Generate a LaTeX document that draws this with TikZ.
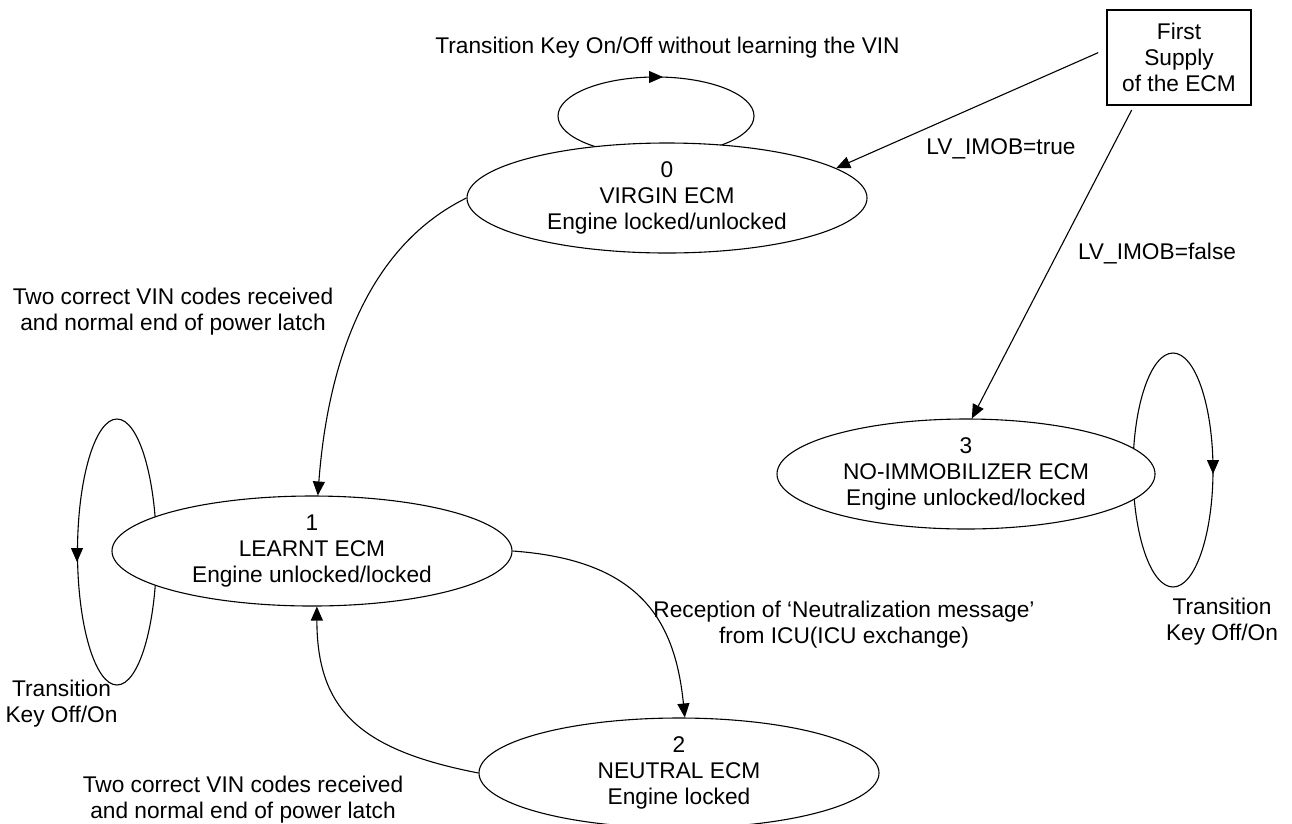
\documentclass[tikz,border=0pt]{standalone}
\usepackage{fontspec}
\setmainfont{Liberation Sans}
\usetikzlibrary{arrows.meta,shapes.geometric,calc}

\begin{document}
\begin{tikzpicture}[x=1pt,y=-1pt,
  every node/.style={font=\fontsize{22.7pt}{26pt}\selectfont},
  state/.style={ellipse,draw,fill=white,line width=1.1pt,inner sep=0pt,
                minimum width=400pt,minimum height=110pt},
  statetext/.style={align=center,inner sep=0pt},
  lbl/.style={align=center,inner sep=0pt,anchor=base},
  wire/.style={line width=1.1pt},
  trans/.style={wire,-{Triangle[length=14pt,width=12pt]}}
]
\useasboundingbox (0,0) rectangle (1292,823);

% state centres
\coordinate (c0) at (667,198);
\coordinate (c1) at (312,551);
\coordinate (c2) at (679,773);
\coordinate (c3) at (966,474);

% self-loops, drawn first so the filled states hide their inner parts
\draw[wire] ($(c0)+(-11,-82)$) ellipse [x radius=98, y radius=39];
\draw[wire] ($(c1)+(-195,1)$) ellipse [x radius=39.5, y radius=133];
\draw[wire] ($(c3)+(207,-4)$) ellipse [x radius=40, y radius=117];

% states
\node[state] (s0) at (c0) {};
\node[state] (s1) at (c1) {};
\node[state] (s2) at (c2) {};
\node[state,minimum width=378pt] (s3) at (c3) {};

\node[statetext] (t0) at (s0) {0\\VIRGIN ECM\\Engine locked/unlocked};
\node[statetext] (t1) at (s1) {1\\LEARNT ECM\\Engine unlocked/locked};
\node[statetext] (t2) at (s2) {2\\NEUTRAL ECM\\Engine locked};
\node[statetext] (t3) at (s3) {3\\NO-IMMOBILIZER ECM\\Engine unlocked/locked};

% power-up box
\node[draw,line width=1.1pt,align=center,minimum width=144pt,minimum height=95pt,
      inner sep=0pt] (box) at (1179,57.5) {First\\Supply\\of the ECM};

% arrowheads on the self-loops
\coordinate (a0) at (653,77);  \coordinate (b0) at (663,77);
\coordinate (a1) at (77,548);  \coordinate (b1) at (77,562);
\coordinate (a3) at (1213,460); \coordinate (b3) at (1213,474);
\draw[trans] (a0) -- (b0);
\draw[trans] (a1) -- (b1);
\draw[trans] (a3) -- (b3);

% transitions
\draw[trans] (s0.west) .. controls (350,255) and (325,400) .. (s1.84);
\draw[trans] (s1.east) .. controls (640,560) and (675,620) .. (s2.84);
\draw[trans] (s2.west) .. controls (360,750) and (317,710) .. (s1.-85);
\draw[trans,shorten <=9pt] ([yshift=8.5pt]box.west) -- (s0.10);
\draw[trans,shorten <=5pt] ([xshift=-45pt]box.south) -- (s3.84);

% transition labels (base = baseline of the last line)
\node[lbl] (l0) at (667.5,53) {Transition Key On/Off without learning the VIN};
\node[lbl] (ltrue) at (1001,154) {LV\_IMOB=true};
\node[lbl] (lfalse) at (1157,259.5) {LV\_IMOB=false};
\node[lbl] (l01) at (173,330.5) {Two correct VIN codes received\\and normal end of power latch};
\node[lbl] (l12) at (844,643.5) {Reception of ‘Neutralization message’\\from ICU(ICU exchange)};
\node[lbl] (l33) at (1222,640.5) {Transition\\Key Off/On};
\node[lbl] (l11) at (61.5,722.5) {Transition\\Key Off/On};
\node[lbl] (l21) at (243,818.5) {Two correct VIN codes received\\and normal end of power latch};
\end{tikzpicture}
\end{document}
